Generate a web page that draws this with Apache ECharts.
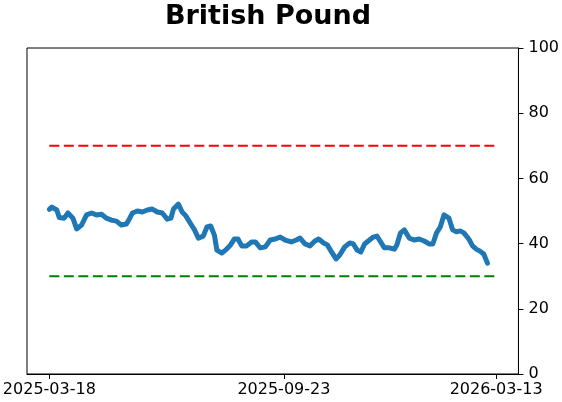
<!DOCTYPE html>
<html>
<head>
<meta charset="utf-8">
<script src="https://cdn.jsdelivr.net/npm/echarts@6/dist/echarts.min.js"></script>
<style>
html,body{margin:0;padding:0;background:#fff;}
#chart{width:562px;height:402px;}
</style>
</head>
<body>
<div id="chart"></div>
<script>
const dates = [
'2025-03-18','2025-03-20','2025-03-24','2025-03-26','2025-03-30','2025-04-02','2025-04-06','2025-04-09','2025-04-13','2025-04-17',
'2025-04-21','2025-04-25','2025-04-29','2025-05-03','2025-05-07','2025-05-11','2025-05-15','2025-05-19','2025-05-21','2025-05-24',
'2025-05-28','2025-06-01','2025-06-05','2025-06-09','2025-06-13','2025-06-17','2025-06-21','2025-06-24','2025-06-26','2025-06-30',
'2025-07-03','2025-07-06','2025-07-10','2025-07-13','2025-07-16','2025-07-20','2025-07-23','2025-07-26','2025-07-29','2025-07-31',
'2025-08-04','2025-08-07','2025-08-11','2025-08-14','2025-08-17','2025-08-20','2025-08-24','2025-08-28','2025-08-31','2025-09-04',
'2025-09-08','2025-09-12','2025-09-16','2025-09-20','2025-09-24','2025-09-29','2025-10-03','2025-10-06','2025-10-10','2025-10-14',
'2025-10-18','2025-10-21','2025-10-25','2025-10-28','2025-10-31','2025-11-04','2025-11-07','2025-11-11','2025-11-15','2025-11-18',
'2025-11-21','2025-11-24','2025-11-27','2025-12-01','2025-12-04','2025-12-07','2025-12-10','2025-12-13','2025-12-17','2025-12-21',
'2025-12-23','2025-12-26','2025-12-29','2026-01-02','2026-01-06','2026-01-10','2026-01-14','2026-01-18','2026-01-21','2026-01-24',
'2026-01-27','2026-01-30','2026-02-03','2026-02-06','2026-02-09','2026-02-12','2026-02-15','2026-02-19','2026-02-22','2026-02-25',
'2026-02-28','2026-03-03','2026-03-06'
];
const values = [
50.5,51.2,50.3,48.0,47.8,49.4,47.8,44.5,45.7,48.8,
49.4,48.8,49.0,47.8,47.2,46.9,45.7,46.0,47.2,49.4,
50.0,49.7,50.3,50.6,49.7,49.4,47.5,47.8,50.6,52.1,
49.7,48.5,46.0,44.2,41.7,42.3,45.1,45.4,42.6,38.0,
37.1,38.0,39.6,41.4,41.4,39.3,39.3,40.5,40.5,38.7,
39.0,41.1,41.4,42.0,41.1,40.5,41.1,41.7,39.9,39.3,
40.8,41.4,40.2,39.6,37.7,35.3,36.5,39.0,40.2,39.9,
38.0,37.4,39.9,41.1,42.0,42.3,40.5,38.7,38.7,38.3,
39.6,43.3,44.2,41.7,41.1,41.4,40.8,39.9,39.9,43.3,
45.1,48.8,47.8,44.2,43.6,43.9,43.3,41.4,39.3,38.3,
37.7,36.8,34.0
];
const upperLevel = 70;
const lowerLevel = 30;
const levelStart = '2025-03-18';
const levelEnd = '2026-03-13';
const tickLabels = ['2025-03-18','2025-09-23','2026-03-13'];
const xMin = '2025-02-28';
const xMax = '2026-03-31';
const yTicks = [0,20,40,60,80,100];

function ts(s){ const p = s.split('-').map(Number); return Date.UTC(p[0], p[1]-1, p[2]); }
function fmt(v){ const d = new Date(v); const p = n => String(n).padStart(2,'0'); return d.getUTCFullYear()+'-'+p(d.getUTCMonth()+1)+'-'+p(d.getUTCDate()); }

const chart = echarts.init(document.getElementById('chart'), null, {renderer:'canvas'});
const font = 'DejaVu Sans';
chart.setOption({
  animation: false,
  backgroundColor: '#fff',
  title: {
    text: 'British Pound',
    left: 263, top: -2, textAlign: 'center',
    textStyle: {fontFamily: font, fontWeight: 'bold', fontSize: 27, color: '#000'}
  },
  grid: {left: 26, right: 40, top: 48, bottom: 28, show: true, borderColor: '#000', borderWidth: 1, backgroundColor: 'transparent'},
  xAxis: {
    type: 'value',
    min: ts(xMin), max: ts(xMax),
    axisLine: {show: true, lineStyle: {color: '#000', width: 1}},
    axisTick: {show: true, length: 5, lineStyle: {color: '#000'}, customValues: tickLabels.map(ts)},
    axisLabel: {
      fontFamily: font, fontSize: 16, color: '#000', margin: 8,
      customValues: tickLabels.map(ts),
      formatter: v => fmt(v)
    },
    splitLine: {show: false}
  },
  yAxis: {
    type: 'value',
    position: 'right',
    min: yTicks[0], max: yTicks[yTicks.length-1], interval: 20,
    axisLine: {show: true, lineStyle: {color: '#000', width: 1}},
    axisTick: {show: true, length: 5, lineStyle: {color: '#000'}},
    axisLabel: {fontFamily: font, fontSize: 16, color: '#000', margin: 10},
    splitLine: {show: false}
  },
  series: [
    {
      type: 'line',
      data: dates.map((d,i) => [ts(d), values[i]]),
      showSymbol: false, symbol: 'none',
      lineStyle: {color: '#1f77b4', width: 5, join: 'round', cap: 'round'},
      z: 3
    },
    {
      type: 'line',
      data: [[ts(levelStart), upperLevel],[ts(levelEnd), upperLevel]],
      symbol: 'none',
      lineStyle: {color: '#ff0000', width: 2, type: [10, 4.5]},
      z: 2
    },
    {
      type: 'line',
      data: [[ts(levelStart), lowerLevel],[ts(levelEnd), lowerLevel]],
      symbol: 'none',
      lineStyle: {color: '#008000', width: 2, type: [10, 4.5]},
      z: 2
    }
  ]
});
</script>
</body>
</html>
